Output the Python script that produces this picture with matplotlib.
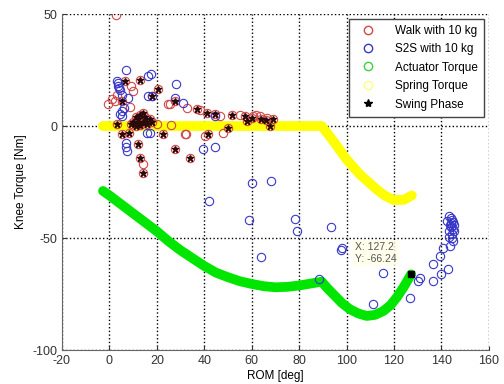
import matplotlib
matplotlib.use('Agg')
import matplotlib.pyplot as plt
from matplotlib.lines import Line2D
import numpy as np

plt.rcParams['font.family'] = ['Liberation Sans', 'DejaVu Sans']
plt.rcParams['axes.unicode_minus'] = False

# Actuator torque curve (green)
act_x = [-2.7, 0, 5, 10, 15, 20, 25, 30, 35, 40, 45, 50, 55, 60, 65, 70, 75, 80, 85, 89.5,
         92, 95.8, 98, 101.4, 105, 108.5, 112, 115.5, 118.5, 121.1, 124, 127.2]
act_y = [-29, -31, -35, -39, -43, -47, -51.5, -55.5, -59, -62.5, -65.5, -67.5, -69.3, -70.5,
         -71.5, -72, -71.8, -71.2, -70.3, -69.5, -72.5, -76.6, -79, -81.8, -83.7, -84.8,
         -84.3, -82.6, -80, -76.6, -72, -66.24]

# Spring torque curve (yellow)
spr_x = [-2.7, 20, 40, 60, 80, 89.5, 94.4, 100, 105.6, 112.7, 116, 119.7, 124, 127.5]
spr_y = [0, 0, 0, 0, 0, 0, -6.7, -14.9, -21.6, -28.3, -31, -33, -33, -31]

# Walk with 10 kg (red circles, no swing star)
walk_x = [2.8, 1, 2.3, -0.5, 10.1, 8.7, 25.5, 24.8, 32.6, 46.6, 32.3, 40.3, 47.7, 14.3,
          60.7, 63.5, 66.3, 9, 3, 31.9, 20, 26, 38, 55, 62]
walk_y = [49.6, 11.9, 11.2, 10, 15.6, 8.5, 10, 9.7, 8.2, 4.5, -3.7, -4.5, -3, -17.1,
          4.5, 4.5, 3.7, 18, 14, -3.4, 1, 0.5, 7, 5, 5]

# Swing phase (black stars drawn on red circles)
swing_x = [6.6, 12.9, 17.8, 20.6, 27.6, 36.8, 41, 44.5, 51.5, 57.2, 60, 64, 66, 69.1,
           67.7, 57.9, 50.1, 41.7, 27.6, 34, 22.4, 12.2, 12.9, 14.3, 5.2, 8.3, 3, 5.2,
           10, 11, 12, 13, 14, 15, 16, 12, 14, 17, 11, 13, 15, 18, 9]
swing_y = [20, 20.4, 13.4, 16.4, 11, 7.4, 6, 5.2, 5, 4.5, 3.5, 3, 2.5, 3,
           0, 2.2, -0.8, -3.7, -10.4, -14.5, -3.4, -7.9, -14.1, -20.8, -3.4, -2.9, 1, 11.2,
           2, 4, 3, 5, 2, 4, 1, 1, 6, 3, 0, 0.5, 2, 2, 1]

# S2S with 10 kg (blue circles)
s2s_x = [7, 3.1, 3.6, 4.5, 5.3, 8, 5.2, 5.2, 4.5, 6, 3.5, 4, 16.4, 17.4, 17.8, 16.4, 28,
         27.6, 30.9, 15.7, 17.1, 7, 7, 7.3, 39.6, 44.5, 44.5, 42, 60, 68, 59, 78.2,
         79.2, 93.3, 63.9, 98, 97.5, 88.5, 115.5, 111.3, 126.7, 130.2, 131, 136.5, 140,
         142.9, 136.5, 139.4, 140.8, 143.6, 145, 143, 144, 144.5, 145, 143.5, 144, 145,
         143, 144.5, 145.5, 142.5, 144, 145.5, 143, 144.5]
s2s_y = [24.9, 20.1, 18, 16, 14, 12.6, 6.7, 4.5, 5.5, 8, 19, 17, 22.3, 23.2, 13.4, 13.4, 18.6,
         12.6, 10.4, -3, -3, -7.4, -9.5, -11.2, -10.4, -9.4, 4.5, -33.5, -25.6, -24.5, -42.1, -41.4,
         -46.9, -45.1, -58.5, -54.3, -55.5, -68.4, -65.5, -79.6, -76.6, -69.2, -68, -69.2, -66.2,
         -64, -61.7, -58, -54.3, -53.6, -51.3, -40, -41, -42, -43, -44, -45, -46,
         -47, -48, -44, -42.5, -43.5, -47, -49.5, -50]

tip_x = 127.2
tip_y = -66.24

fig = plt.figure(figsize=(5.04, 3.84), dpi=100)
ax = fig.add_axes([0.123, 0.0885, 0.847, 0.875])

ax.plot(act_x, act_y, color='#00e600', linewidth=7, solid_capstyle='round',
        solid_joinstyle='round', zorder=2)
ax.plot(spr_x, spr_y, color='#ffff00', linewidth=7, solid_capstyle='round',
        solid_joinstyle='round', zorder=2)
ax.plot(walk_x + swing_x, walk_y + swing_y, 'o', mfc='none', mec='#d04848', ms=6, mew=0.8, zorder=3)
ax.plot(s2s_x, s2s_y, 'o', mfc='none', mec='#3838c8', ms=6, mew=0.8, zorder=3)
ax.plot(swing_x, swing_y, '*', color='#2a0a0a', ms=4.5, zorder=4)
ax.plot(tip_x, tip_y, 's', color='black', ms=5, zorder=5)
ax.annotate('X: 127.2\nY: -66.24', xy=(tip_x, tip_y), xytext=(103.5, -52),
            fontsize=7.5, color='#555555', va='top', ha='left',
            bbox=dict(boxstyle='square,pad=0.2', fc='#ffffe8', ec='none', alpha=0.8))

ax.set_xlim(-20, 160)
ax.set_ylim(-100, 50)
ax.set_xticks(np.arange(-20, 161, 20))
ax.set_yticks([-100, -50, 0, 50])
ax.grid(True, color='black', linestyle=':', linewidth=1)
ax.set_axisbelow(True)
for side in ['top', 'right']:
    ax.spines[side].set_visible(False)
for side in ['left', 'bottom']:
    ax.spines[side].set_color('#666666')
ax.tick_params(direction='in', labelsize=9, colors='#333333', length=3)
ax.set_xlabel('ROM [deg]', fontsize=8.5, labelpad=2)
ax.set_ylabel('Knee Torque [Nm]', fontsize=8.5, labelpad=4)

handles = [
    Line2D([], [], marker='o', ls='none', mfc='none', mec='#d04848', ms=6),
    Line2D([], [], marker='o', ls='none', mfc='none', mec='#3838c8', ms=6),
    Line2D([], [], marker='o', ls='none', mfc='none', mec='#40d040', ms=6),
    Line2D([], [], marker='o', ls='none', mfc='none', mec='#ffff80', ms=6),
    Line2D([], [], marker='*', ls='none', color='black', ms=6),
]
labels = ['Walk with 10 kg', 'S2S with 10 kg', 'Actuator Torque', 'Spring Torque', 'Swing Phase']
leg = ax.legend(handles, labels, loc='upper right', fontsize=8.5, fancybox=False,
                framealpha=1, edgecolor='#444444', handletextpad=1.2, borderaxespad=0.4,
                labelspacing=0.55, borderpad=0.5, handlelength=2.2)
leg.get_frame().set_linewidth(1)

fig.savefig('out.png', dpi=100)
